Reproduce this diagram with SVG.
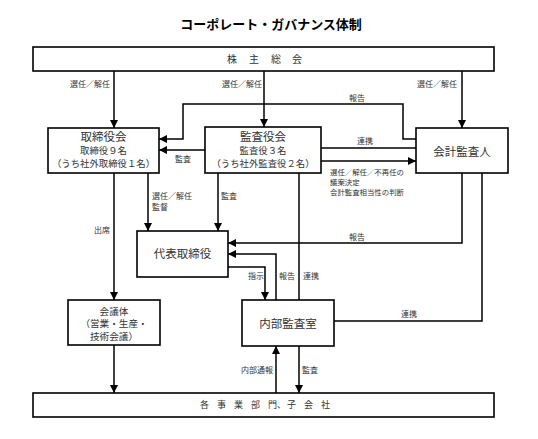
<svg xmlns="http://www.w3.org/2000/svg" width="538" height="439" viewBox="0 0 538 439">
<style>
.box{fill:#fff;stroke:#000;stroke-width:1.6}
.ln{fill:none;stroke:#000;stroke-width:1.5}
.arr{marker-end:url(#ah)}
text{font-family:"Noto Sans CJK JP","Noto Sans CJK SC",sans-serif;fill:#333}
.t11{font-size:11.5px;text-anchor:middle}
.t10{font-size:9.4px;text-anchor:middle}
.big{font-size:11.5px}
.lb{font-size:8px;fill:#333}
.an{font-size:7.4px;fill:#333}
.title{font-size:13px;font-weight:bold;fill:#000;text-anchor:middle}
</style>
<defs>
<marker id="ah" markerUnits="userSpaceOnUse" markerWidth="9" markerHeight="9" refX="8" refY="4" orient="auto">
<path d="M0,0 L8,4 L0,8 z" fill="#000"/>
</marker>
</defs>
<rect width="538" height="439" fill="#fff"/>
<text class="title" x="271" y="29">コーポレート・ガバナンス体制</text>

<g id="connectors">
<path class="ln arr" d="M114,71 V128"/>
<path class="ln arr" d="M264,71 V127"/>
<path class="ln arr" d="M462,71 V128"/>
<path class="ln arr" d="M416,139 H403 V104 H183 V139 H159"/>
<path class="ln arr" d="M205,150 H159"/>
<path class="ln" d="M321,148 H416"/>
<path class="ln arr" d="M321,161 H416"/>
<path class="ln arr" d="M114,173 V300"/>
<path class="ln arr" d="M148,173 V231"/>
<path class="ln arr" d="M218,173 V231"/>
<path class="ln arr" d="M462,173 V243 H228"/>
<path class="ln arr" d="M276,300 V254 H228"/>
<path class="ln arr" d="M228,267 H265 V300"/>
<path class="ln" d="M299,173 V300"/>
<path class="ln" d="M482,173 V321 H334"/>
<path class="ln arr" d="M114,345 V393"/>
<path class="ln arr" d="M276,393 V346"/>
<path class="ln arr" d="M299,346 V393"/>
<text class="lb" x="110" y="87" text-anchor="end">選任／解任</text>
<text class="lb" x="262" y="87" text-anchor="end">選任／解任</text>
<text class="lb" x="457" y="87" text-anchor="end">選任／解任</text>
<text class="lb" x="357" y="101" text-anchor="middle">報告</text>
<text class="lb" x="175" y="162">監査</text>
<text class="lb" x="365" y="144" text-anchor="middle">連携</text>
<text class="an" y="175"><tspan x="330">選任／解任／不再任の</tspan><tspan x="330" dy="10">議案決定</tspan><tspan x="330" dy="10">会計監査相当性の判断</tspan></text>
<text class="lb" x="94" y="233">出席</text>
<text class="lb" y="199"><tspan x="152">選任／解任</tspan><tspan x="152" dy="11">監督</tspan></text>
<text class="lb" x="221" y="199">監査</text>
<text class="lb" x="357" y="240" text-anchor="middle">報告</text>
<text class="lb" x="248" y="279">指示</text>
<text class="lb" x="279" y="279">報告</text>
<text class="lb" x="303" y="279">連携</text>
<text class="lb" x="409" y="317" text-anchor="middle">連携</text>
<text class="lb" x="273" y="373" text-anchor="end">内部通報</text>
<text class="lb" x="302" y="373">監査</text>
</g>

<g id="shareholders">
<rect class="box" x="33" y="47" width="461" height="24"/>
<text style="font-size:10px" x="227 249 271 292" y="62.5">株主総会</text>
</g>
<g id="board">
<rect class="box" x="48" y="128" width="111" height="45"/>
<text class="t10" y="141"><tspan class="big" x="103.5">取締役会</tspan><tspan x="103.5" dy="13">取締役９名</tspan><tspan x="103.5" dy="12.6">（うち社外取締役１名）</tspan></text>
</g>
<g id="auditboard">
<rect class="box" x="205" y="127" width="116" height="46"/>
<text class="t10" y="141"><tspan class="big" x="263">監査役会</tspan><tspan x="263" dy="13">監査役３名</tspan><tspan x="263" dy="12.6">（うち社外監査役２名）</tspan></text>
</g>
<g id="accountant">
<rect class="box" x="416" y="128" width="92" height="45"/>
<text class="t11" x="462" y="155.5">会計監査人</text>
</g>
<g id="representative">
<rect class="box" x="137" y="231" width="91" height="46"/>
<text class="t11" x="182.5" y="258">代表取締役</text>
</g>
<g id="meeting">
<rect class="box" x="68" y="300" width="92" height="45"/>
<text class="t10" style="font-size:9.6px" y="314.5"><tspan x="114">会議体</tspan><tspan x="114" dy="12.6">（営業・生産・</tspan><tspan x="114" dy="12.6">技術会議）</tspan></text>
</g>
<g id="internalaudit">
<rect class="box" x="242" y="300" width="92" height="46"/>
<text class="t11" x="288" y="327.5">内部監査室</text>
</g>
<g id="divisions">
<rect class="box" x="33" y="393" width="461" height="24"/>
<text style="font-size:9px" x="200 217 234 251 268 277 287 304 321" y="408">各事業部門、子会社</text>
</g>
</svg>
